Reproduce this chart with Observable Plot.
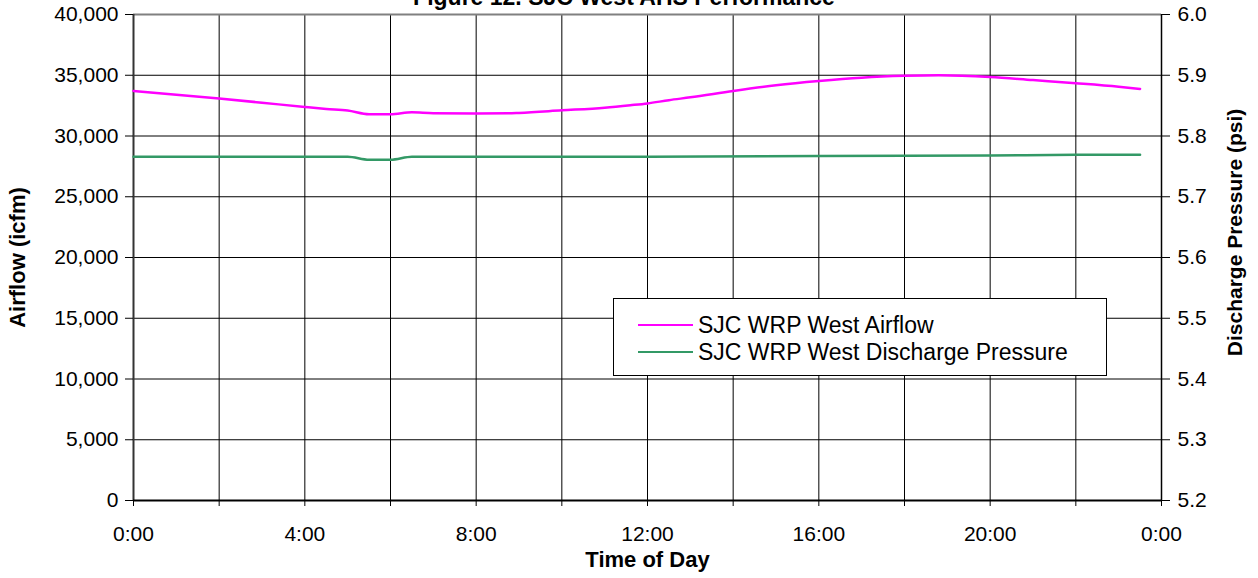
<!DOCTYPE html>
<html>
<head>
<meta charset="utf-8">
<script src="https://cdn.jsdelivr.net/npm/d3@7"></script>
<script src="https://cdn.jsdelivr.net/npm/@observablehq/plot@0.6"></script>
<style>
  body { margin: 0; background: #fff; overflow: hidden; }
  #wrap { position: relative; width: 1258px; height: 578px; font-family: "Liberation Sans", Arial, sans-serif; }
  #title { position: absolute; left: 0; top: -14px; width: 1248px; text-align: center; font-weight: bold; font-size: 23px; line-height: 22px; color: #000; }
  #legend { position: absolute; left: 613px; top: 298px; width: 492px; height: 76px; border: 1px solid #000; background: #fff; }
  .li { position: absolute; left: 24px; height: 24px; font-size: 23px; line-height: 24px; color: #000; white-space: nowrap; }
  .sw { display: inline-block; width: 55px; height: 0; border-top: 2.5px solid; vertical-align: middle; margin-right: 5px; position: relative; top: -2px; }
  svg { position: absolute; left: 0; top: 0; }
</style>
</head>
<body>
<div id="wrap">
  <div id="chart"></div>
  <div id="title"></div>
  <div id="legend"></div>
</div>
<script>
// ---- data (hours of day) ----
const titleText = "Figure 12. SJC West AHS Performance";
const airHours = [0, 1, 2, 3, 4, 4.5, 5, 5.5, 6, 6.5, 7, 8, 8.75, 9, 10, 11, 11.6, 12, 12.5, 13, 14, 15, 16, 17, 18, 18.8, 20, 21, 22, 23, 23.5];
const airflow  = [33710, 33400, 33080, 32740, 32390, 32230, 32100, 31790, 31790, 31950, 31870, 31860, 31870, 31900, 32110, 32330, 32530, 32680, 32950, 33180, 33710, 34180, 34530, 34800, 34950, 35000, 34860, 34600, 34340, 34050, 33870];
const presHours = [0, 5, 5.5, 6, 6.5, 12, 16, 20, 22, 23.5];
const pressure  = [5.766, 5.766, 5.761, 5.761, 5.766, 5.766, 5.767, 5.768, 5.769, 5.769];
const seriesNames = ["SJC WRP West Airflow", "SJC WRP West Discharge Pressure"];
const seriesColors = ["#ff00ff", "#339966"];
const yTicks = [0, 5000, 10000, 15000, 20000, 25000, 30000, 35000, 40000];
const pTicks = [5.2, 5.3, 5.4, 5.5, 5.6, 5.7, 5.8, 5.9, 6.0];
const xGrid = [0, 2, 4, 6, 8, 10, 12, 14, 16, 18, 20, 22, 24];
const xLabelTicks = [0, 4, 8, 12, 16, 20, 24];
const xLabels = ["0:00", "4:00", "8:00", "12:00", "16:00", "20:00", "0:00"];
const yTitle = "Airflow (icfm)";
const y2Title = "Discharge Pressure (psi)";
const xTitle = "Time of Day";

const pMin = 5.2, pMax = 6.0, yMax = 40000;
const toY = p => (p - pMin) / (pMax - pMin) * yMax;
const fromY = v => v / yMax * (pMax - pMin) + pMin;

const airData = airHours.map((h, i) => ({h, v: airflow[i]}));
const presData = presHours.map((h, i) => ({h, v: toY(pressure[i])}));

const chart = Plot.plot({
  width: 1258,
  height: 578,
  marginTop: 14,
  marginBottom: 78,
  marginLeft: 133,
  marginRight: 97,
  style: {fontFamily: "'Liberation Sans', Arial, sans-serif", fontSize: "21px", color: "#000", background: "transparent"},
  x: {domain: [0, 24]},
  y: {domain: [0, yMax]},
  marks: [
    Plot.gridX(xGrid, {stroke: "#000", strokeOpacity: 1, strokeWidth: 1}),
    Plot.gridY(yTicks, {stroke: "#000", strokeOpacity: 1, strokeWidth: 1}),
    Plot.ruleY([yMax], {stroke: "#808080", strokeWidth: 2}),
    Plot.ruleX([0], {stroke: "#333", strokeWidth: 2}),
    Plot.ruleX([24], {stroke: "#000", strokeWidth: 1.5}),
    Plot.ruleY([0], {stroke: "#000", strokeWidth: 2}),
    Plot.axisY(yTicks, {anchor: "left", tickSize: 8, tickPadding: 7, tickFormat: d3.format(","), label: null}),
    Plot.axisY(pTicks.map(toY), {anchor: "right", tickSize: 8, tickPadding: 8, tickFormat: d => fromY(d).toFixed(1), label: null}),
    Plot.axisX(xGrid, {anchor: "bottom", tickSize: 6, tickFormat: () => "", label: null}),
    Plot.axisX(xLabelTicks, {anchor: "bottom", tickSize: 0, tickPadding: 26, tickFormat: (d) => xLabels[xLabelTicks.indexOf(d)], label: null}),
    Plot.line(presData, {x: "h", y: "v", stroke: seriesColors[1], strokeWidth: 2.5, curve: "monotone-x"}),
    Plot.line(airData, {x: "h", y: "v", stroke: seriesColors[0], strokeWidth: 2.5, curve: "monotone-x"}),
    Plot.text([yTitle], {frameAnchor: "left", dx: -116, rotate: -90, fontWeight: "bold", fontSize: 22, textAnchor: "middle"}),
    Plot.text([y2Title], {frameAnchor: "right", dx: 74, dy: -25, rotate: -90, fontWeight: "bold", fontSize: 21, textAnchor: "middle"}),
    Plot.text([xTitle], {frameAnchor: "bottom", dy: 66, fontWeight: "bold", fontSize: 22, textAnchor: "middle"})
  ]
});
document.getElementById("chart").appendChild(chart);

document.getElementById("title").textContent = titleText;
const lg = document.getElementById("legend");
seriesNames.forEach((name, i) => {
  const row = document.createElement("div");
  row.className = "li";
  row.style.top = (i === 0 ? 14 : 41) + "px";
  const sw = document.createElement("span");
  sw.className = "sw";
  sw.style.borderColor = seriesColors[i];
  row.appendChild(sw);
  row.appendChild(document.createTextNode(name));
  lg.appendChild(row);
});
</script>
</body>
</html>
